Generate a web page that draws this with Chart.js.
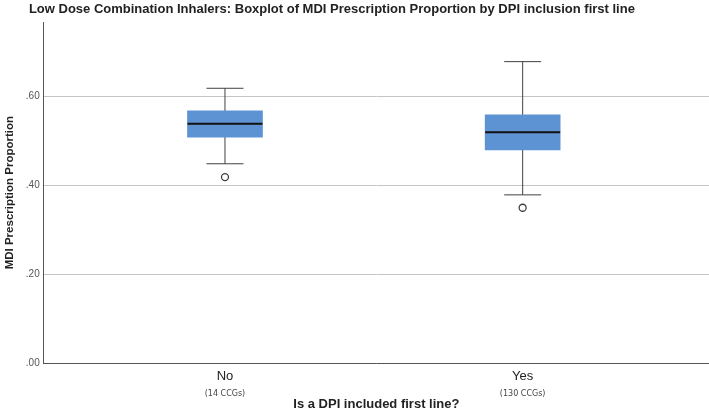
<!DOCTYPE html>
<html>
<head>
<meta charset="utf-8">
<script src="https://cdn.jsdelivr.net/npm/chart.js@4"></script>
<style>
  html, body { margin: 0; padding: 0; background: #fff; }
  #wrap { width: 709px; height: 412px; position: relative; }
</style>
</head>
<body>
<div id="wrap"><canvas id="boxChart"></canvas></div>
<script>
// ── data ──
const categories = ['No', 'Yes'];
const groupCounts = ['(14 CCGs)', '(130 CCGs)'];
const whiskerLow  = [0.449, 0.379];
const q1          = [0.509, 0.480];
const medians     = [0.539, 0.520];
const q3          = [0.568, 0.559];
const whiskerHigh = [0.619, 0.679];
const outliers    = [[0.419], [0.350]];
const yTicks      = [0, 0.2, 0.4, 0.6];

const BOX_BLUE = '#5e93d3';
const INK = '#404040';
const xs = categories.map((c, i) => i);

// whiskers: one vertical line per group, the box is painted over the middle
const whiskerSets = xs.map(i => ({
  type: 'line',
  data: [{ x: i, y: whiskerLow[i] }, { x: i, y: whiskerHigh[i] }],
  borderColor: INK, borderWidth: 1, pointRadius: 0, order: 4
}));

const capPoints = [];
xs.forEach(i => { capPoints.push({ x: i, y: whiskerLow[i] }, { x: i, y: whiskerHigh[i] }); });
const outlierPoints = [];
xs.forEach(i => outliers[i].forEach(v => outlierPoints.push({ x: i, y: v })));

const xRange = { min: -0.609, max: 1.626 };

new Chart(document.getElementById('boxChart'), {
  data: {
    datasets: [
      { type: 'scatter', data: xs.map(i => ({ x: i, y: medians[i] })),
        pointStyle: 'line', pointRadius: 37.5, pointHoverRadius: 37.5,
        borderColor: '#111', borderWidth: 2, order: 0 },
      { type: 'scatter', data: capPoints,
        pointStyle: 'line', pointRadius: 18.5, pointHoverRadius: 18.5,
        borderColor: INK, borderWidth: 1, order: 1 },
      { type: 'scatter', data: outlierPoints,
        pointStyle: 'circle', pointRadius: 3.5, pointHoverRadius: 3.5,
        backgroundColor: '#fff', borderColor: INK, borderWidth: 1.3, order: 1 },
      { type: 'bar', data: xs.map(i => ({ x: i, y: [q1[i], q3[i]] })),
        backgroundColor: BOX_BLUE, borderWidth: 0, barThickness: 75, order: 3 },
      ...whiskerSets
    ]
  },
  options: {
    responsive: true,
    maintainAspectRatio: false,
    animation: false,
    layout: { autoPadding: false, padding: { left: 0, right: 0, top: 0, bottom: 0 } },
    plugins: {
      legend: { display: false },
      tooltip: { enabled: false },
      title: {
        display: true, align: 'start', color: '#222',
        text: '        Low Dose Combination Inhalers: Boxplot of MDI Prescription Proportion by DPI inclusion first line',
        font: { family: "'Liberation Sans', Arial, sans-serif", size: 13, weight: 'bold' },
        padding: { top: 2, bottom: 4.5 }
      }
    },
    scales: {
      x: {
        type: 'linear', position: 'bottom', weight: 0, offset: false, ...xRange,
        afterBuildTicks: s => { s.ticks = xs.map(v => ({ value: v })); },
        ticks: { callback: v => categories[v], color: '#222', padding: 5, maxRotation: 0,
                 font: { family: "'Liberation Sans', Arial, sans-serif", size: 13 } },
        grid: { display: false, drawTicks: false },
        border: { color: '#555', width: 1 }
      },
      x2: {
        type: 'linear', position: 'bottom', weight: 1, offset: false, ...xRange,
        afterBuildTicks: s => { s.ticks = xs.map(v => ({ value: v })); },
        ticks: { callback: v => groupCounts[v], color: '#444', padding: 0, maxRotation: 0,
                 font: { family: "'DejaVu Sans', sans-serif", size: 8 } },
        grid: { display: false, drawTicks: false },
        border: { display: false },
        title: { display: true, text: 'Is a DPI included first line?', color: '#222',
                 padding: { top: -2, bottom: 0 },
                 font: { family: "'Liberation Sans', Arial, sans-serif", size: 13, weight: 'bold' } }
      },
      y: {
        min: 0, max: 0.768,
        afterBuildTicks: s => { s.ticks = yTicks.map(v => ({ value: v })); },
        ticks: { callback: v => v.toFixed(2).replace(/^0/, ''), color: '#555', padding: 4,
                 font: { family: "'Liberation Sans', Arial, sans-serif", size: 10 } },
        grid: { color: '#c4c4c4', drawTicks: false },
        border: { color: '#555', width: 1 },
        title: { display: true, text: 'MDI Prescription Proportion', color: '#222',
                 padding: { top: 3, bottom: 5 },
                 font: { family: "'Liberation Sans', Arial, sans-serif", size: 11.5, weight: 'bold' } }
      }
    }
  }
});
</script>
</body>
</html>
